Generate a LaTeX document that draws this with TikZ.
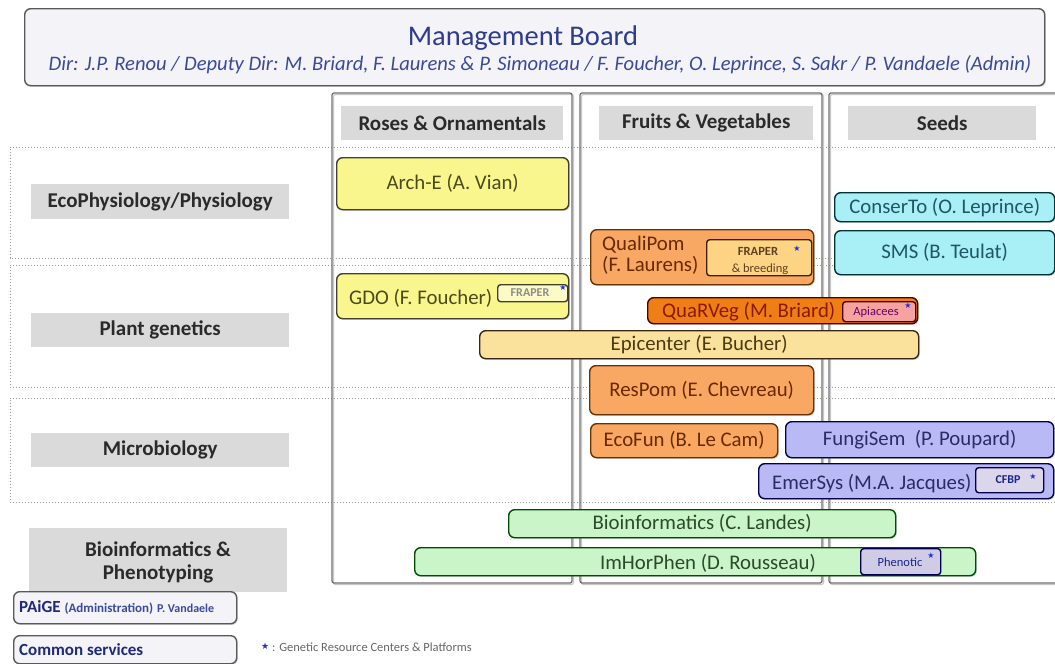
\documentclass[tikz,border=0pt]{standalone}
\usepackage{fontspec}
\setmainfont{Carlito}
\newfontfamily\symfont{DejaVu Sans}
\usetikzlibrary{shadows}
\definecolor{mbfill}{HTML}{F3F3F8}
\definecolor{mbtext}{HTML}{2E3C8C}
\definecolor{subtext}{HTML}{3A4A9A}
\definecolor{lblgray}{HTML}{DADADA}
\definecolor{lbltext}{HTML}{2A2A2A}
\definecolor{colline}{HTML}{707070}
\definecolor{dotline}{HTML}{9A9A9A}
\definecolor{yelfill}{HTML}{F9F68E}
\definecolor{yeltext}{HTML}{4A4A1A}
\definecolor{epifill}{HTML}{FBE29C}
\definecolor{epitext}{HTML}{4A3A10}
\definecolor{orfill}{HTML}{F8A862}
\definecolor{ortext}{HTML}{6A2A00}
\definecolor{qrfill}{HTML}{F07E16}
\definecolor{qrtext}{HTML}{8A1A00}
\definecolor{cyfill}{HTML}{A8F0F5}
\definecolor{cytext}{HTML}{1F5566}
\definecolor{lvfill}{HTML}{B9B9F6}
\definecolor{lvtext}{HTML}{2B2B66}
\definecolor{grfill}{HTML}{C9F5C9}
\definecolor{grtext}{HTML}{2A4A2A}
\definecolor{starblue}{HTML}{2233CC}
\definecolor{tagbr}{HTML}{FCD483}
\definecolor{tagpink}{HTML}{F5A2A0}
\definecolor{taglav}{HTML}{DCD6EA}
\definecolor{taglav2}{HTML}{D0CCE6}
\definecolor{navy}{HTML}{1F2A7A}
\newcommand\stR{{\symfont\fontsize{8}{8}\selectfont\textcolor{starblue}{★}}}
\begin{document}
\begin{tikzpicture}[x=1pt,y=-1pt,
  fb/.style={font=\fontsize{21}{23}\selectfont\bfseries},
  fr/.style={font=\fontsize{20.8}{22}\selectfont},
  box/.style={draw, rounded corners=6pt, line width=1.4pt, inner sep=0pt, anchor=north west,
    drop shadow={shadow xshift=1.2pt, shadow yshift=-1.2pt, opacity=0.3}},
  tag/.style={draw, rounded corners=3pt, line width=1.4pt, inner sep=0pt, anchor=north west},
  tagtxt/.style={inner sep=0pt, font=\fontsize{12.5}{13}\selectfont},
  lbl/.style={fill=lblgray, inner sep=0pt, anchor=north west, fb, text=lbltext},
  col/.style={draw=colline, line width=1.3pt, rounded corners=2pt},
  colsh/.style={draw=black!22, line width=1.2pt, rounded corners=2pt},
  rowbox/.style={draw=dotline, line width=1pt, dash pattern=on 1.3pt off 1.7pt},
  txt/.style={inner sep=0pt}
]
\useasboundingbox[fill=white] (0,0) rectangle (1055,664);

% Management board
\node[box, fill=mbfill, draw=black!65, minimum width=1020pt, minimum height=77pt] (mb) at (24,8) {};
\node[txt, font=\fontsize{28.5}{30}\selectfont, text=mbtext] (mbt) at (523,38) {Management Board};
\node[txt, font=\fontsize{20.6}{23}\selectfont\itshape, text=subtext] (mbs) at (540,65)
  {Dir: J.P. Renou / Deputy Dir: M. Briard, F. Laurens \& P. Simoneau / F. Foucher, O. Leprince, S. Sakr / P. Vandaele (Admin)};

% dotted row frames
\path[rowbox] (1070,147) -- (10,147) -- (10,258) -- (1070,258);
\path[rowbox] (1070,265) -- (10,265) -- (10,387) -- (1070,387);
\path[rowbox] (1070,398) -- (10,398) -- (10,502) -- (1070,502);

% column frames
\path[colsh] (333.5,94.5) rectangle (573.5,584.5);
\path[colsh] (581.5,94.5) rectangle (823.5,584.5);
\path[colsh] (830.5,94.5) rectangle (1075,584.5);
\path[col] (332,93) rectangle (572,583);
\path[col] (580,93) rectangle (822,583);
\path[col] (829,93) rectangle (1075,583);

% column headers
\node[lbl, minimum width=222pt, minimum height=34pt] (hro) at (341,106) {Roses \& Ornamentals};
\node[lbl, minimum width=214pt, minimum height=34pt] (hfv) at (599,106) {Fruits \& Vegetables};
\node[lbl, minimum width=188pt, minimum height=34pt] (hse) at (848,106) {Seeds};

% row labels
\node[lbl, minimum width=258pt, minimum height=35pt] (reco) at (31,184) {EcoPhysiology/Physiology};
\node[lbl, minimum width=258pt, minimum height=34pt] (rpg) at (31,313) {Plant genetics};
\node[lbl, minimum width=258pt, minimum height=34pt] (rmi) at (31,433) {Microbiology};
\node[lbl, minimum width=258pt, minimum height=64pt] (rbi) at (29,528) {};
\node[txt, align=center, font=\fontsize{21}{23}\selectfont\bfseries, text=lbltext] (rbit) at (158,562) {Bioinformatics \&\\Phenotyping};

% projects
\node[box, fill=yelfill, draw=black!70!olive, minimum width=232pt, minimum height=52pt, fr, text=yeltext] (arche) at (336,157) {Arch-E (A. Vian)};
\node[box, fill=yelfill, draw=black!70!olive, minimum width=232pt, minimum height=45pt] (gdo) at (336,273) {};
\node[txt, anchor=west, fr, text=yeltext] (gdot) at (349,298) {GDO (F. Foucher)};
\node[tag, fill=yelfill!50!white, draw=black!70!olive, minimum width=70pt, minimum height=17pt] (gdotag) at (497,284) {};
\node[tagtxt, font=\fontsize{12}{12}\selectfont\bfseries, text=black!45] (gdotagt) at (530,293) {FRAPER};
\node[txt] (gdost) at (563,288) {\stR};

\node[box, fill=orfill, draw=black!60!orange, minimum width=223pt, minimum height=55pt] (qp) at (590,229) {};
\node[txt, anchor=north west, align=left, font=\fontsize{20.8}{21}\selectfont, text=ortext] (qpt) at (602,236) {QualiPom\\(F. Laurens)};
\node[tag, fill=tagbr, draw=black!75!orange, minimum width=105pt, minimum height=36pt] (qptag) at (706,239) {};
\node[tagtxt, font=\fontsize{12.5}{13}\selectfont\bfseries, text=black!50!brown] (qptag1) at (758,251) {FRAPER};
\node[txt] (qpst) at (797,249) {\stR};
\node[tagtxt, text=black!50!brown] (qptag2) at (760,269) {\& breeding};

\node[box, fill=cyfill, draw=black!60!teal, minimum width=220pt, minimum height=29pt, fr, text=cytext] (cons) at (834,192) {ConserTo (O. Leprince)};
\node[box, fill=cyfill, draw=black!60!teal, minimum width=220pt, minimum height=44pt, fr, text=cytext] (sms) at (834,230) {SMS (B. Teulat)};

\node[box, fill=qrfill, draw=black!70!red, minimum width=270pt, minimum height=26pt] (qrv) at (647,297) {};
\node[txt, anchor=west, fr, text=qrtext] (qrvt) at (662,312) {QuaRVeg (M. Briard)};
\node[tag, fill=tagpink, draw=black!70!red, minimum width=73pt, minimum height=20pt] (qrvtag) at (842,301) {};
\node[tagtxt, text=violet!80!black] (qrvtagt) at (876,312) {Apiacees};
\node[txt] (qrvst) at (908,306) {\stR};

\node[box, fill=epifill, draw=black!70!brown, minimum width=439pt, minimum height=28pt, fr, text=epitext] (epi) at (479,330) {Epicenter (E. Bucher)};

\node[box, fill=orfill, draw=black!60!orange, minimum width=224pt, minimum height=49pt, fr, text=ortext] (resp) at (589,365) {ResPom (E. Chevreau)};
\node[box, fill=orfill, draw=black!60!orange, minimum width=187pt, minimum height=34pt, fr, text=ortext] (ecof) at (590,423) {EcoFun (B. Le Cam)};

\node[box, fill=lvfill, draw=black!70!blue, minimum width=268pt, minimum height=36pt, fr, text=lvtext] (fung) at (785,421) {FungiSem\ \ (P. Poupard)};
\node[box, fill=lvfill, draw=black!70!blue, minimum width=295pt, minimum height=35pt] (emer) at (758,463) {};
\node[txt, anchor=west, fr, text=lvtext] (emert) at (772,484) {EmerSys (M.A. Jacques)};
\node[tag, fill=taglav, draw=black!70!blue, minimum width=68pt, minimum height=25pt] (emertag) at (975,467) {};
\node[tagtxt, font=\fontsize{12}{12}\selectfont\bfseries, text=starblue!70!black] (emertagt) at (1008,480) {CFBP};
\node[txt] (emerst) at (1033,477) {\stR};

\node[box, fill=grfill, draw=black!70!green, minimum width=387pt, minimum height=28pt, fr, text=grtext] (bioi) at (508,509) {Bioinformatics (C. Landes)};
\node[box, fill=grfill, draw=black!70!green, minimum width=561pt, minimum height=28pt] (imh) at (414,547) {};
\node[txt, fr, text=grtext] (imht) at (708,563) {ImHorPhen (D. Rousseau)};
\node[tag, fill=taglav2, draw=black!70!blue, minimum width=80pt, minimum height=26pt] (imhtag) at (860,548) {};
\node[tagtxt, text=starblue!70!black] (imhtagt) at (900,562) {Phenotic};
\node[txt] (imhst) at (931,556) {\stR};

% bottom-left boxes
\node[box, fill=mbfill, draw=black!65, minimum width=223pt, minimum height=32pt] (paige) at (13,591) {};
\node[txt, anchor=west] (paiget) at (19,608) {\fontsize{17}{18}\selectfont\bfseries\textcolor{navy}{PAiGE} {\fontsize{13}{14}\selectfont\bfseries\textcolor{subtext}{(Administration)}} {\fontsize{12}{13}\selectfont\textcolor{subtext}{P. Vandaele}}};
\node[box, fill=mbfill, draw=black!65, minimum width=223pt, minimum height=28pt] (comm) at (13,635) {};
\node[txt, anchor=west, font=\fontsize{17}{18}\selectfont\bfseries, text=navy] (commt) at (19,650) {Common services};

% legend
\node[txt, anchor=west] (legs) at (261,646) {{\symfont\fontsize{9}{9}\selectfont\textcolor{starblue}{★}}};
\node[txt, anchor=west, font=\fontsize{12.5}{13}\selectfont, text=black!60] (legt) at (272,647) {: Genetic Resource Centers \& Platforms};
\end{tikzpicture}
\end{document}
